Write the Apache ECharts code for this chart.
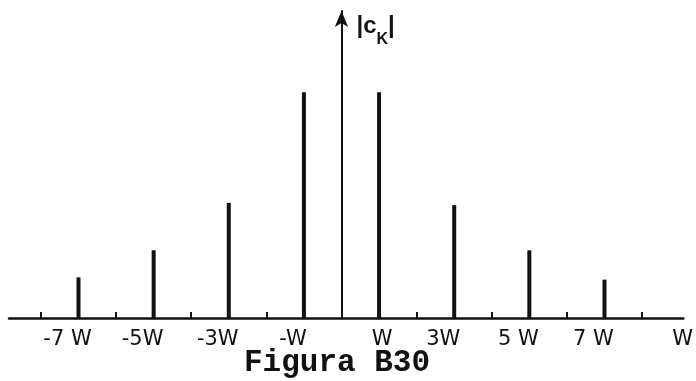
<!DOCTYPE html>
<html>
<head>
<meta charset="utf-8">
<script src="https://cdn.jsdelivr.net/npm/echarts@6/dist/echarts.min.js"></script>
<style>
  html, body { margin: 0; padding: 0; background: #fff; }
  #chart { width: 696px; height: 381px; }
</style>
</head>
<body>
<div id="chart"></div>
<script>
// Line spectrum |c_k| of a periodic signal: harmonics at odd multiples of W
const harmonics = [-7, -5, -3, -1, 1, 3, 5, 7];
const magnitudes = [0.18, 0.30, 0.51, 1.0, 1.0, 0.50, 0.30, 0.17];

// Small marks at even multiples of W along the frequency axis
const evenMarks = [-8, -6, -4, -2, 2, 4, 6, 8];

// Frequency-axis tick labels
const labelValues = [-7, -5, -3, -1, 1, 3, 5, 7, 9];
const labelTexts = ['-7 W', '-5W', '-3W', '-W', 'W', '3W', '5 W', '7 W', 'W'];

const ink = '#111';
const chart = echarts.init(document.getElementById('chart'));

chart.setOption({
  animation: false,
  backgroundColor: '#fff',
  title: {
    text: 'Figura B30',
    left: 244,
    top: 348,
    padding: 0,
    textStyle: {
      fontFamily: 'Liberation Mono',
      fontSize: 31,
      fontWeight: 'bold',
      color: ink
    }
  },
  grid: { left: 9, right: 12, top: 11, bottom: 63 },
  xAxis: {
    type: 'value',
    min: -8.85,
    max: 9.1,
    splitLine: { show: false },
    axisLine: { show: true, lineStyle: { color: ink, width: 2.5 } },
    axisTick: {
      show: true,
      inside: true,
      length: 6,
      customValues: evenMarks,
      lineStyle: { color: ink, width: 2 }
    },
    axisLabel: {
      show: true,
      customValues: labelValues,
      margin: 11,
      formatter: function (v) {
        const i = labelValues.indexOf(Math.round(v));
        if (i < 0) return '';
        const t = labelTexts[i];
        return (t === 'W') ? '{w|' + t + '}' : '{t|' + t + '}';
      },
      rich: {
        t: {
          fontFamily: 'DejaVu Sans',
          fontSize: 21,
          color: ink,
          padding: [0, 22, 0, 0]
        },
        w: {
          fontFamily: 'DejaVu Sans',
          fontSize: 21,
          color: ink,
          padding: [0, 0, 0, 6]
        }
      }
    }
  },
  yAxis: {
    type: 'value',
    min: 0,
    max: 1.36,
    splitLine: { show: false },
    axisTick: { show: false },
    axisLabel: { show: false },
    axisLine: {
      show: true,
      onZero: true,
      symbol: ['none', 'arrow'],
      symbolSize: [10, 16],
      lineStyle: { color: ink, width: 2 }
    },
    // |c_K| with a lowered K subscript
    name: '{b||}{c|c}{k|K}{b||}',
    nameLocation: 'end',
    nameGap: -3,
    nameTextStyle: {
      align: 'left',
      verticalAlign: 'top',
      padding: [0, 0, 0, 15],
      rich: {
        b: { fontFamily: 'Liberation Sans', fontSize: 24, fontWeight: 'bold', color: ink, verticalAlign: 'top', lineHeight: 24 },
        c: { fontFamily: 'Liberation Sans', fontSize: 24, fontWeight: 'bold', color: ink, verticalAlign: 'top', lineHeight: 24 },
        k: { fontFamily: 'Liberation Sans', fontSize: 16, fontWeight: 'bold', color: ink, verticalAlign: 'bottom', lineHeight: 34 }
      }
    }
  },
  series: [{
    type: 'bar',
    barWidth: 4,
    itemStyle: { color: ink },
    data: harmonics.map((k, i) => [k, magnitudes[i]])
  }]
});
</script>
</body>
</html>
